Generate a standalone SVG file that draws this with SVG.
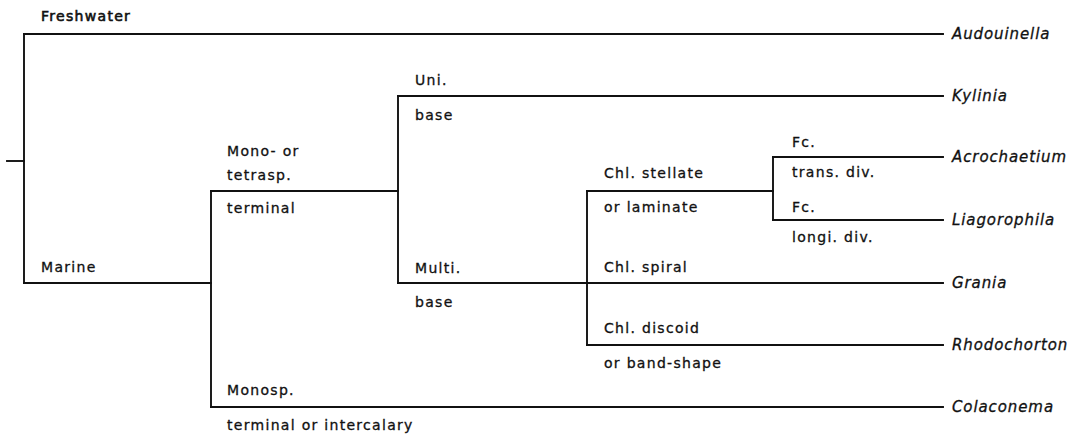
<svg xmlns="http://www.w3.org/2000/svg" width="1069" height="435" viewBox="0 0 1069 435">
  <style>
    .edge { fill: none; stroke: #111; stroke-width: 1.9; stroke-linecap: square; }
    .lbl { font-family: "DejaVu Sans", "Liberation Sans", sans-serif; font-size: 14px; letter-spacing: 1.3px; fill: #111; stroke: #111; stroke-width: 0.3; }
    .head { stroke-width: 0.6; }
    .taxon { font-family: "DejaVu Sans", "Liberation Sans", sans-serif; font-size: 15px; font-style: italic; letter-spacing: 0.9px; fill: #111; stroke: #111; stroke-width: 0.3; }
  </style>
  <rect width="1069" height="435" fill="#fff"/>

  <!-- tree branches -->
  <g id="connectors">
    <path class="edge" d="M7,161 H24"/>
    <path class="edge" d="M24,34 V283"/>
    <path class="edge" d="M24,34 H943"/>
    <path class="edge" d="M24,283 H211"/>
    <path class="edge" d="M211,191 V407"/>
    <path class="edge" d="M211,191 H398"/>
    <path class="edge" d="M211,407 H943"/>
    <path class="edge" d="M398,96 V283"/>
    <path class="edge" d="M398,96 H943"/>
    <path class="edge" d="M398,283 H943"/>
    <path class="edge" d="M587,191 V345"/>
    <path class="edge" d="M587,191 H773"/>
    <path class="edge" d="M587,345 H943"/>
    <path class="edge" d="M773,157 V220"/>
    <path class="edge" d="M773,157 H943"/>
    <path class="edge" d="M773,220 H943"/>
  </g>

  <!-- branch character labels -->
  <g id="habitat">
    <text class="lbl head" x="41" y="21">Freshwater</text>
    <text class="lbl" x="41" y="272">Marine</text>
  </g>
  <g id="sporangia">
    <text class="lbl" x="227" y="156">Mono- or</text>
    <text class="lbl" x="227" y="180">tetrasp.</text>
    <text class="lbl" x="227" y="213">terminal</text>
    <text class="lbl" x="227" y="395">Monosp.</text>
    <text class="lbl" x="227" y="430">terminal or intercalary</text>
  </g>
  <g id="base">
    <text class="lbl" x="415" y="85">Uni.</text>
    <text class="lbl" x="415" y="120">base</text>
    <text class="lbl" x="415" y="273">Multi.</text>
    <text class="lbl" x="415" y="307">base</text>
  </g>
  <g id="chloroplast">
    <text class="lbl" x="604" y="178">Chl. stellate</text>
    <text class="lbl" x="604" y="212">or laminate</text>
    <text class="lbl" x="604" y="272">Chl. spiral</text>
    <text class="lbl" x="604" y="333">Chl. discoid</text>
    <text class="lbl" x="604" y="368">or band-shape</text>
  </g>
  <g id="division">
    <text class="lbl" x="792" y="147">Fc.</text>
    <text class="lbl" x="792" y="177">trans. div.</text>
    <text class="lbl" x="792" y="212">Fc.</text>
    <text class="lbl" x="792" y="242">longi. div.</text>
  </g>

  <!-- genera -->
  <g id="audouinella"><text class="taxon" x="952" y="39">Audouinella</text></g>
  <g id="kylinia"><text class="taxon" x="952" y="101">Kylinia</text></g>
  <g id="acrochaetium"><text class="taxon" x="952" y="162">Acrochaetium</text></g>
  <g id="liagorophila"><text class="taxon" x="952" y="225">Liagorophila</text></g>
  <g id="grania"><text class="taxon" x="952" y="288">Grania</text></g>
  <g id="rhodochorton"><text class="taxon" x="952" y="350">Rhodochorton</text></g>
  <g id="colaconema"><text class="taxon" x="952" y="412">Colaconema</text></g>
</svg>
